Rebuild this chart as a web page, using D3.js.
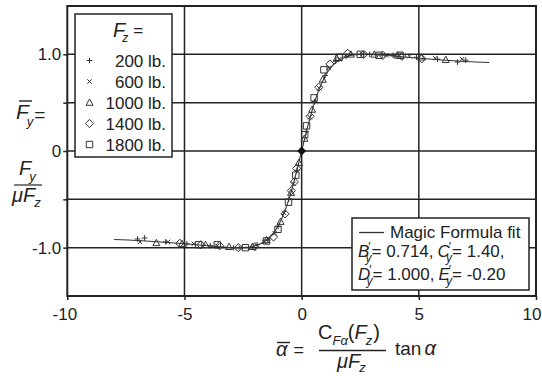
<!DOCTYPE html>
<html>
<head>
<meta charset="utf-8">
<script src="https://cdn.jsdelivr.net/npm/d3@7"></script>
<style>
  body { margin: 0; background: #fff; }
  svg text { font-family: "Liberation Sans", Arial, sans-serif; fill: #222; }
  .it { font-style: italic; }
</style>
</head>
<body>
<div id="container"></div>
<script>
/* DATA */
const xTicks = [-10, -5, 0, 5, 10];
const yTicks = [-1, 0, 1];
const yGrid = [-1, -0.5, 0, 0.5, 1];

const loads = ["200 lb.", "600 lb.", "1000 lb.", "1400 lb.", "1800 lb."];
const markers = ["plus", "cross", "triangle", "diamond", "square"];

// normalized slip (x) and normalized lateral force (y)
const fz200 = [[-7.0, -0.91], [-6.7, -0.90], [-5.8, -0.94], [-4.9, -0.96], [-3.9, -0.98], [-2.9, -1.0], [-1.9, -0.97], [-1.45, -0.92], [-1.0, -0.78], [-0.55, -0.50], [-0.2, -0.20], [0.2, 0.20], [0.55, 0.51], [1.0, 0.78], [1.45, 0.93], [1.9, 0.98], [2.9, 1.0], [3.9, 0.99], [4.9, 0.97], [5.8, 0.95], [6.65, 0.92], [7.0, 0.94]];
const fz600 = [[-6.9, -0.94], [-5.7, -0.94], [-4.6, -0.96], [-3.6, -0.98], [-2.6, -1.0], [-1.6, -0.94], [-1.15, -0.85], [-0.75, -0.64], [-0.35, -0.34], [0.35, 0.35], [0.75, 0.65], [1.15, 0.86], [1.6, 0.95], [2.6, 1.0], [3.6, 0.99], [4.6, 0.98], [5.7, 0.96], [6.85, 0.95]];
const fz1000 = [[-6.2, -0.95], [-5.1, -0.96], [-4.1, -0.97], [-3.1, -0.99], [-2.1, -0.99], [-1.5, -0.92], [-0.9, -0.73], [-0.45, -0.43], [-0.12, -0.12], [0.12, 0.13], [0.45, 0.43], [0.9, 0.74], [1.5, 0.96], [2.1, 1.0], [3.1, 1.0], [4.1, 0.99], [5.1, 0.97], [6.15, 0.945]];
const fz1400 = [[-5.2, -0.955], [-4.3, -0.97], [-3.5, -0.98], [-2.7, -1.0], [-2.0, -0.99], [-1.2, -0.89], [-0.71, -0.65], [-0.44, -0.41], [-0.31, -0.32], [-0.21, -0.18], [0.36, 0.36], [0.73, 0.66], [1.21, 0.9], [1.96, 1.01], [2.65, 1.0], [3.47, 0.99], [4.28, 0.98], [5.13, 0.955]];
const fz1800 = [[-4.4, -0.97], [-3.6, -0.97], [-2.4, -1.0], [-1.5, -0.93], [-1.01, -0.81], [-0.56, -0.53], [-0.25, -0.25], [0.13, 0.17], [0.21, 0.26], [0.53, 0.55], [0.95, 0.84], [1.6, 0.97], [2.5, 1.0], [3.3, 0.99], [4.2, 0.99]];
const series = [fz200, fz600, fz1000, fz1400, fz1800];

// Magic Formula fit line
const fitX = [-8, -7, -6, -5, -4, -3, -2.5, -2, -1.5, -1.25, -1, -0.75, -0.5, -0.25, 0, 0.25, 0.5, 0.75, 1, 1.25, 1.5, 2, 2.5, 3, 4, 5, 6, 7, 8];
const fitY = [-0.915, -0.926, -0.941, -0.959, -0.980, -0.998, -0.999, -0.983, -0.924, -0.865, -0.774, -0.643, -0.465, -0.245, 0, 0.245, 0.465, 0.643, 0.774, 0.865, 0.924, 0.983, 0.999, 0.998, 0.980, 0.959, 0.941, 0.926, 0.915];

const origin = [[0, 0]];

/* LAYOUT */
const width = 542, height = 376;
const plot = { left: 67.3, right: 536, top: 6, bottom: 296 };
const ink = "#222";

const xScale = d3.scaleLinear().domain([-10, 10]).range([plot.left, plot.right]);
const yScale = d3.scaleLinear().domain([-1.5, 1.5]).range([plot.bottom, plot.top]);

function markerPath(type, s) {
  if (type === "plus") return `M${-s},0H${s}M0,${-s}V${s}`;
  if (type === "cross") return `M${-s},${-s}L${s},${s}M${-s},${s}L${s},${-s}`;
  if (type === "triangle") return `M0,${-s}L${s},${s * 0.8}L${-s},${s * 0.8}Z`;
  if (type === "diamond") return `M0,${-s}L${s},0L0,${s}L${-s},0Z`;
  return `M${-s},${-s}H${s}V${s}H${-s}Z`;
}
const markerSize = { plus: 2.8, cross: 2.2, triangle: 3.5, diamond: 4.1, square: 3.2 };

const svg = d3.select("#container").append("svg")
  .attr("width", width).attr("height", height);

/* GRID */
svg.append("g").selectAll("line")
  .data(xTicks.filter(d => d > -10 && d < 10))
  .join("line")
  .attr("x1", d => xScale(d)).attr("x2", d => xScale(d))
  .attr("y1", plot.top).attr("y2", plot.bottom)
  .attr("stroke", ink).attr("stroke-width", 1.5);

svg.append("g").selectAll("line")
  .data(yGrid)
  .join("line")
  .attr("x1", plot.left).attr("x2", plot.right)
  .attr("y1", d => yScale(d)).attr("y2", d => yScale(d))
  .attr("stroke", ink).attr("stroke-width", 1.5);

/* AXES */
const xAxis = d3.axisBottom(xScale).tickValues(xTicks).tickSize(4).tickPadding(8)
  .tickFormat(d => String(d));
const gx = svg.append("g").attr("transform", `translate(0,${plot.bottom})`).call(xAxis);
// the last label sits against the right edge of the picture
gx.selectAll(".tick text").filter(d => d === 10).attr("text-anchor", "end").attr("x", 5);
gx.selectAll(".tick text").filter(d => d === -10).attr("x", -3);

const yAxis = d3.axisLeft(yScale).tickValues(yGrid).tickSize(4).tickPadding(2)
  .tickFormat(d => yTicks.includes(d) ? (d === 0 ? "0" : d.toFixed(1)) : "");
const gy = svg.append("g").attr("transform", `translate(${plot.left},0)`).call(yAxis);

[gx, gy].forEach(g => {
  g.select(".domain").remove();
  g.selectAll("line").attr("stroke", ink).attr("stroke-width", 1.5);
  g.selectAll("text").attr("font-size", 17).attr("fill", ink)
    .style("font-family", '"Liberation Sans", Arial, sans-serif');
});

svg.append("rect")
  .attr("x", plot.left).attr("y", plot.top)
  .attr("width", plot.right - plot.left).attr("height", plot.bottom - plot.top)
  .attr("fill", "none").attr("stroke", ink).attr("stroke-width", 2);

/* FIT LINE */
const fit = fitX.map((x, i) => [x, fitY[i]]);
svg.append("path")
  .datum(fit)
  .attr("fill", "none").attr("stroke", "#333").attr("stroke-width", 1.1)
  .attr("d", d3.line().x(d => xScale(d[0])).y(d => yScale(d[1])).curve(d3.curveCatmullRom));

/* POINTS */
series.forEach((data, i) => {
  const type = markers[i];
  svg.append("g").selectAll("path")
    .data(data)
    .join("path")
    .attr("transform", d => `translate(${xScale(d[0])},${yScale(d[1])})`)
    .attr("d", markerPath(type, markerSize[type]))
    .attr("fill", "none").attr("stroke", "#333").attr("stroke-width", 1);
});

svg.append("g").selectAll("path")
  .data(origin)
  .join("path")
  .attr("transform", d => `translate(${xScale(d[0])},${yScale(d[1])})`)
  .attr("d", markerPath("diamond", 4.5))
  .attr("fill", "#111");

/* LEGEND: loads */
const leg = svg.append("g");
leg.append("rect").attr("x", 75).attr("y", 14).attr("width", 97).attr("height", 143)
  .attr("fill", "#fff").attr("stroke", ink).attr("stroke-width", 1.5);
const title = leg.append("text").attr("x", 113).attr("y", 37).attr("font-size", 20);
title.append("tspan").attr("class", "it").text("F");
title.append("tspan").attr("class", "it").attr("font-size", 12).attr("dx", -3).attr("dy", 5).text("z");
title.append("tspan").attr("font-size", 17).attr("dx", 5).attr("dy", -6).text("=");

const legRow = d3.scaleBand().domain(loads).range([50, 155]);
loads.forEach((name, i) => {
  const cy = legRow(name) + legRow.bandwidth() / 2;
  const type = markers[i];
  leg.append("path")
    .attr("transform", `translate(89.5,${cy})`)
    .attr("d", markerPath(type, markerSize[type]))
    .attr("fill", "none").attr("stroke", "#333").attr("stroke-width", 1);
  leg.append("text").attr("x", 166).attr("y", cy).attr("dy", "0.36em")
    .attr("text-anchor", "end").attr("font-size", 17).text(name);
});

/* LEGEND: fit */
const leg2 = svg.append("g");
leg2.append("rect").attr("x", 352).attr("y", 218).attr("width", 177).attr("height", 72)
  .attr("fill", "#fff").attr("stroke", ink).attr("stroke-width", 1.5);
leg2.append("line").attr("x1", 359).attr("x2", 384).attr("y1", 232.5).attr("y2", 232.5)
  .attr("stroke", "#333").attr("stroke-width", 1.3);
leg2.append("text").attr("x", 390).attr("y", 238).attr("font-size", 17).text("Magic Formula fit");

// one text per row: letter, prime above a subscript y, then the value
function coefRow(g, x, y, parts) {
  const t = g.append("text").attr("x", x).attr("y", y).attr("font-size", 17);
  parts.forEach(([letter, rest], k) => {
    t.append("tspan").attr("class", "it").attr("dx", k ? 4 : 0).text(letter);
    t.append("tspan").attr("font-size", 12).attr("dy", -6).attr("dx", -1).text("′");
    t.append("tspan").attr("class", "it").attr("font-size", 12).attr("dx", -5).attr("dy", 11).text("y");
    t.append("tspan").attr("dy", -5).attr("dx", 0).text(rest);
  });
}
coefRow(leg2, 358, 257, [["B", "= 0.714,"], ["C", "= 1.40,"]]);
coefRow(leg2, 358, 280, [["D", "= 1.000,"], ["E", "= -0.20"]]);

/* Y AXIS LABEL */
const yl = svg.append("g");
const yTop = yl.append("text").attr("x", 16).attr("y", 119).attr("font-size", 21);
yTop.append("tspan").attr("class", "it").text("F");
yTop.append("tspan").attr("class", "it").attr("font-size", 13).attr("dx", -2).attr("dy", 7).text("y");
yTop.append("tspan").attr("font-size", 19).attr("dx", 1).attr("dy", -5).text("=");
yl.append("line").attr("x1", 19).attr("x2", 32).attr("y1", 101).attr("y2", 101).attr("stroke", ink).attr("stroke-width", 1.4);
const yNum = yl.append("text").attr("x", 19).attr("y", 175).attr("font-size", 20);
yNum.append("tspan").attr("class", "it").text("F");
yNum.append("tspan").attr("class", "it").attr("font-size", 13).attr("dx", -2).attr("dy", 6).text("y");
yl.append("line").attr("x1", 14).attr("x2", 42).attr("y1", 185).attr("y2", 185).attr("stroke", ink).attr("stroke-width", 1.2);
const yDen = yl.append("text").attr("x", 12).attr("y", 202).attr("font-size", 20);
yDen.append("tspan").attr("class", "it").text("μF");
yDen.append("tspan").attr("class", "it").attr("font-size", 13).attr("dx", -1).attr("dy", 5).text("z");

/* X AXIS LABEL */
const xl = svg.append("g");
const xLeft = xl.append("text").attr("x", 276).attr("y", 356).attr("font-size", 20);
xLeft.append("tspan").attr("class", "it").text("α");
xLeft.append("tspan").attr("font-size", 18).attr("dx", 6).text("=");
xl.append("line").attr("x1", 277).attr("x2", 290).attr("y1", 342.5).attr("y2", 342.5).attr("stroke", ink).attr("stroke-width", 1.4);
const xNum = xl.append("text").attr("x", 318).attr("y", 339).attr("font-size", 20);
xNum.append("tspan").text("C");
xNum.append("tspan").attr("class", "it").attr("font-size", 13).attr("dy", 6).text("Fα");
xNum.append("tspan").attr("dy", -6).text("(");
xNum.append("tspan").attr("class", "it").text("F");
xNum.append("tspan").attr("class", "it").attr("font-size", 13).attr("dx", -1).attr("dy", 6).text("z");
xNum.append("tspan").attr("dx", 1).attr("dy", -6).text(")");
xl.append("line").attr("x1", 319).attr("x2", 386).attr("y1", 350.5).attr("y2", 350.5).attr("stroke", ink).attr("stroke-width", 1.3);
const xDen = xl.append("text").attr("x", 337).attr("y", 368).attr("font-size", 20);
xDen.append("tspan").attr("class", "it").text("μF");
xDen.append("tspan").attr("class", "it").attr("font-size", 13).attr("dx", -1).attr("dy", 4).text("z");
const xTan = xl.append("text").attr("x", 395).attr("y", 355).attr("font-size", 19);
xTan.append("tspan").text("tan");
xTan.append("tspan").attr("class", "it").attr("font-size", 20).attr("dx", 3).text("α");
</script>
</body>
</html>
